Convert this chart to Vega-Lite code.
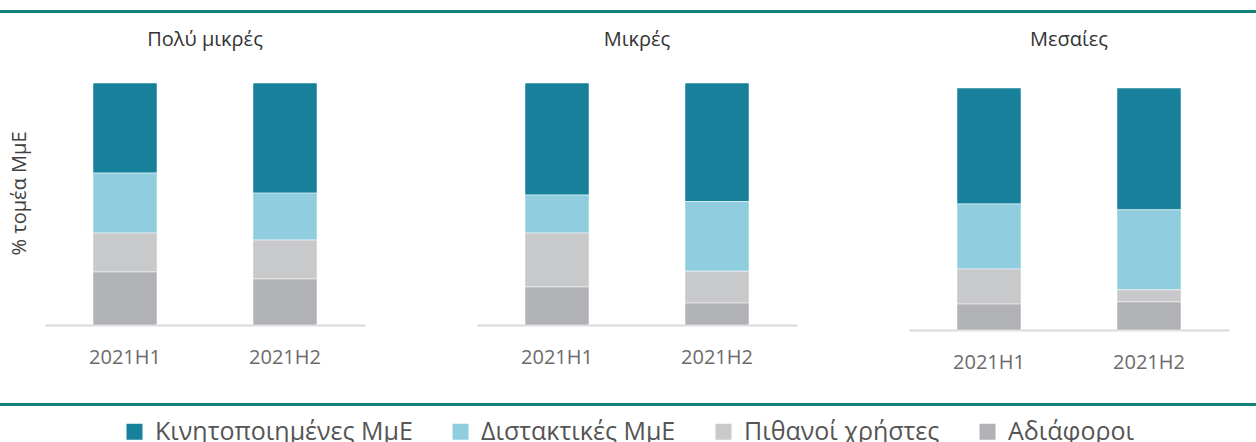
{
  "$schema": "https://vega.github.io/schema/vega-lite/v6.json",
  "padding": {"left": 0, "top": 10, "right": 0, "bottom": 0},
  "background": "white",
  "config": {
    "font": "Open Sans",
    "view": {"stroke": null},
    "title": {"fontSize": 20, "fontWeight": "normal", "color": "#333333", "offset": 33},
    "legend": {"layout": {"bottom": {"anchor": "middle"}}}
  },
  "datasets": {
    "cats": [
      {"cat": "Αδιάφοροι", "rank": 1},
      {"cat": "Πιθανοί χρήστες", "rank": 2},
      {"cat": "Διστακτικές ΜμΕ", "rank": 3},
      {"cat": "Κινητοποιημένες ΜμΕ", "rank": 4}
    ]
  },
  "data": {
    "values": [
      {"size": "Πολύ μικρές", "period": "2021H1", "cat": "Κινητοποιημένες ΜμΕ", "value": 37.2},
      {"size": "Πολύ μικρές", "period": "2021H1", "cat": "Διστακτικές ΜμΕ", "value": 24.8},
      {"size": "Πολύ μικρές", "period": "2021H1", "cat": "Πιθανοί χρήστες", "value": 16.1},
      {"size": "Πολύ μικρές", "period": "2021H1", "cat": "Αδιάφοροι", "value": 21.9},
      {"size": "Πολύ μικρές", "period": "2021H2", "cat": "Κινητοποιημένες ΜμΕ", "value": 45.5},
      {"size": "Πολύ μικρές", "period": "2021H2", "cat": "Διστακτικές ΜμΕ", "value": 19.4},
      {"size": "Πολύ μικρές", "period": "2021H2", "cat": "Πιθανοί χρήστες", "value": 16.1},
      {"size": "Πολύ μικρές", "period": "2021H2", "cat": "Αδιάφοροι", "value": 19.0},
      {"size": "Μικρές", "period": "2021H1", "cat": "Κινητοποιημένες ΜμΕ", "value": 46.3},
      {"size": "Μικρές", "period": "2021H1", "cat": "Διστακτικές ΜμΕ", "value": 15.7},
      {"size": "Μικρές", "period": "2021H1", "cat": "Πιθανοί χρήστες", "value": 22.3},
      {"size": "Μικρές", "period": "2021H1", "cat": "Αδιάφοροι", "value": 15.7},
      {"size": "Μικρές", "period": "2021H2", "cat": "Κινητοποιημένες ΜμΕ", "value": 49.2},
      {"size": "Μικρές", "period": "2021H2", "cat": "Διστακτικές ΜμΕ", "value": 28.9},
      {"size": "Μικρές", "period": "2021H2", "cat": "Πιθανοί χρήστες", "value": 13.2},
      {"size": "Μικρές", "period": "2021H2", "cat": "Αδιάφοροι", "value": 9.1},
      {"size": "Μεσαίες", "period": "2021H1", "cat": "Κινητοποιημένες ΜμΕ", "value": 47.9},
      {"size": "Μεσαίες", "period": "2021H1", "cat": "Διστακτικές ΜμΕ", "value": 26.9},
      {"size": "Μεσαίες", "period": "2021H1", "cat": "Πιθανοί χρήστες", "value": 14.5},
      {"size": "Μεσαίες", "period": "2021H1", "cat": "Αδιάφοροι", "value": 10.7},
      {"size": "Μεσαίες", "period": "2021H2", "cat": "Κινητοποιημένες ΜμΕ", "value": 50.4},
      {"size": "Μεσαίες", "period": "2021H2", "cat": "Διστακτικές ΜμΕ", "value": 33.1},
      {"size": "Μεσαίες", "period": "2021H2", "cat": "Πιθανοί χρήστες", "value": 5.0},
      {"size": "Μεσαίες", "period": "2021H2", "cat": "Αδιάφοροι", "value": 11.6}
    ]
  },
  "spacing": 16,
  "vconcat": [
    {
      "width": 1256, "height": 3,
      "view": {"fill": "#14807A", "stroke": null},
      "transform": [{"filter": "false"}],
      "mark": {"type": "point", "opacity": 0},
      "encoding": {}
    },
    {
      "spacing": 0,
      "bounds": "flush",
      "hconcat": [
        {
          "width": 45, "height": 242,
          "transform": [{"filter": "false"}],
          "mark": {"type": "point", "opacity": 0},
          "encoding": {}
        },
        {
          "title": "Πολύ μικρές",
          "width": 320, "height": 242,
          "transform": [
            {"filter": {"field": "size", "equal": "Πολύ μικρές"}},
            {"lookup": "cat", "from": {"data": {"name": "cats"}, "key": "cat", "fields": ["rank"]}}
          ],
          "mark": {"type": "bar", "width": 64, "stroke": "white", "strokeWidth": 0.5},
          "encoding": {
            "x": {"field": "period", "type": "nominal", "scale": {"paddingInner": 0.6, "paddingOuter": 0.3},
                  "axis": {"title": " ", "titleFontSize": 20, "titlePadding": 0, "labelAngle": 0, "labelFontSize": 20, "labelColor": "#6b6b6b", "labelPadding": 22, "ticks": false, "domainColor": "#D9D9D9", "domainWidth": 2}},
            "y": {"field": "value", "type": "quantitative", "stack": "normalize",
                  "axis": {"title": "% τομέα ΜμΕ", "labels": false, "ticks": false, "domain": false, "grid": false, "titleFontSize": 20, "titleColor": "#404040", "titleFontWeight": "normal", "titlePadding": 16, "titleY": 110}},
            "order": {"field": "rank", "type": "quantitative"},
            "color": {"field": "cat", "type": "nominal",
                      "sort": ["Κινητοποιημένες ΜμΕ", "Διστακτικές ΜμΕ", "Πιθανοί χρήστες", "Αδιάφοροι"],
                      "scale": {"domain": ["Κινητοποιημένες ΜμΕ", "Διστακτικές ΜμΕ", "Πιθανοί χρήστες", "Αδιάφοροι"], "range": ["#17819B", "#8FCDDF", "#C8C9CB", "#B1B2B6"]},
                      "legend": {"title": null, "orient": "bottom", "direction": "horizontal", "symbolType": "square", "symbolSize": 256, "symbolStrokeWidth": 0, "labelFontSize": 25, "labelLimit": 500, "labelColor": "#555555", "columnPadding": 35, "offset": 13, "labelOffset": 8}}
          }
        },
        {
          "width": 112, "height": 242,
          "transform": [{"filter": "false"}],
          "mark": {"type": "point", "opacity": 0},
          "encoding": {}
        },
        {
          "title": "Μικρές",
          "width": 320, "height": 242,
          "transform": [
            {"filter": {"field": "size", "equal": "Μικρές"}},
            {"lookup": "cat", "from": {"data": {"name": "cats"}, "key": "cat", "fields": ["rank"]}}
          ],
          "mark": {"type": "bar", "width": 64, "stroke": "white", "strokeWidth": 0.5},
          "encoding": {
            "x": {"field": "period", "type": "nominal", "scale": {"paddingInner": 0.6, "paddingOuter": 0.3},
                  "axis": {"title": null, "labelAngle": 0, "labelFontSize": 20, "labelColor": "#6b6b6b", "labelPadding": 22, "ticks": false, "domainColor": "#D9D9D9", "domainWidth": 2}},
            "y": {"field": "value", "type": "quantitative", "stack": "normalize", "axis": null},
            "order": {"field": "rank", "type": "quantitative"},
            "color": {"field": "cat", "type": "nominal",
                      "sort": ["Κινητοποιημένες ΜμΕ", "Διστακτικές ΜμΕ", "Πιθανοί χρήστες", "Αδιάφοροι"]}
          }
        },
        {
          "width": 112, "height": 242,
          "transform": [{"filter": "false"}],
          "mark": {"type": "point", "opacity": 0},
          "encoding": {}
        },
        {
          "spacing": 0,
          "bounds": "flush",
          "vconcat": [
            {
              "width": 320, "height": 5,
              "transform": [{"filter": "false"}],
              "mark": {"type": "point", "opacity": 0},
              "encoding": {}
            },
            {
              "title": {"text": "Μεσαίες", "offset": 38},
              "width": 320, "height": 242,
              "transform": [
                {"filter": {"field": "size", "equal": "Μεσαίες"}},
                {"lookup": "cat", "from": {"data": {"name": "cats"}, "key": "cat", "fields": ["rank"]}}
              ],
              "mark": {"type": "bar", "width": 64, "stroke": "white", "strokeWidth": 0.5},
              "encoding": {
                "x": {"field": "period", "type": "nominal", "scale": {"paddingInner": 0.6, "paddingOuter": 0.3},
                      "axis": {"title": null, "labelAngle": 0, "labelFontSize": 20, "labelColor": "#6b6b6b", "labelPadding": 22, "ticks": false, "domainColor": "#D9D9D9", "domainWidth": 2}},
                "y": {"field": "value", "type": "quantitative", "stack": "normalize", "axis": null},
                "order": {"field": "rank", "type": "quantitative"},
                "color": {"field": "cat", "type": "nominal",
                          "sort": ["Κινητοποιημένες ΜμΕ", "Διστακτικές ΜμΕ", "Πιθανοί χρήστες", "Αδιάφοροι"]}
              }
            }
          ]
        }
      ]
    },
    {
      "width": 1256, "height": 3,
      "view": {"fill": "#14807A", "stroke": null},
      "transform": [{"filter": "false"}],
      "mark": {"type": "point", "opacity": 0},
      "encoding": {}
    }
  ]
}
